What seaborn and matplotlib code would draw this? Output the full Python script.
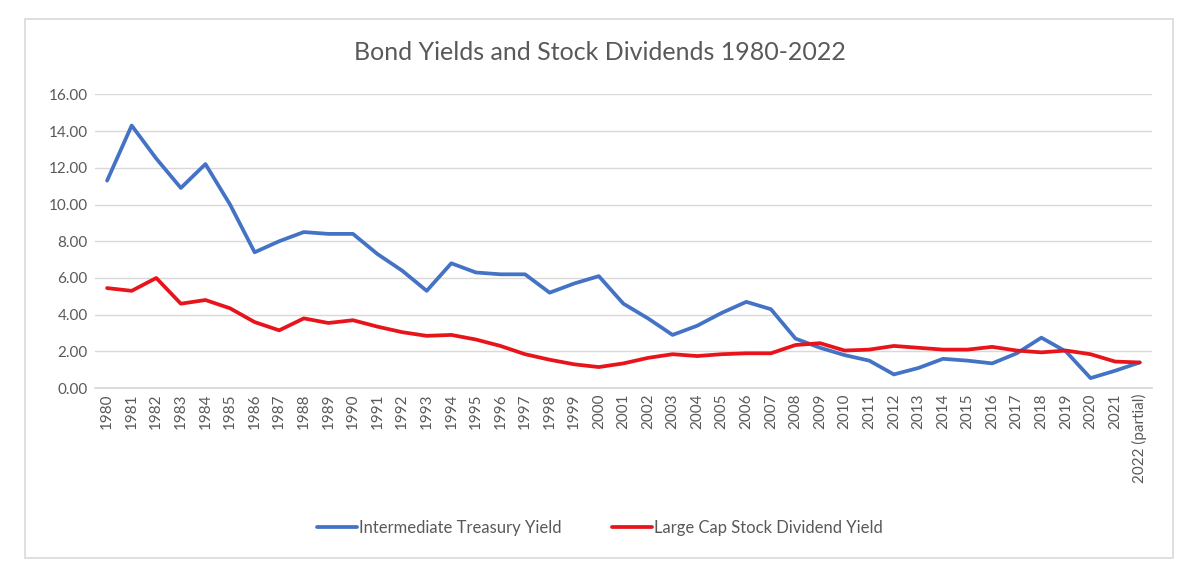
#!/usr/bin/env python3

import pandas as pd
import matplotlib.pyplot as plt
import seaborn as sns
from matplotlib.patches import Rectangle


YEARS = [str(y) for y in range(1980, 2022)] + ['2022 (partial)']

TREASURY = [11.3, 14.3, 12.5, 10.9, 12.2, 10.0, 7.4, 8.0, 8.5, 8.4,
            8.4, 7.3, 6.4, 5.3, 6.8, 6.3, 6.2, 6.2, 5.2, 5.7,
            6.1, 4.6, 3.8, 2.9, 3.4, 4.1, 4.7, 4.3, 2.7, 2.2,
            1.8, 1.5, 0.75, 1.1, 1.6, 1.5, 1.35, 1.9, 2.75, 2.0,
            0.55, 0.95, 1.4]

DIVIDEND = [5.45, 5.3, 6.0, 4.6, 4.8, 4.35, 3.6, 3.15, 3.8, 3.55,
            3.7, 3.35, 3.05, 2.85, 2.9, 2.65, 2.3, 1.85, 1.55, 1.3,
            1.15, 1.35, 1.65, 1.85, 1.75, 1.85, 1.9, 1.9, 2.35, 2.45,
            2.05, 2.1, 2.3, 2.2, 2.1, 2.1, 2.25, 2.05, 1.95, 2.05,
            1.85, 1.45, 1.4]

SERIES = ['Intermediate Treasury Yield', 'Large Cap Stock Dividend Yield']
COLORS = ['#4472C4', '#E8141C']


def build_frame():
    pos = list(range(len(YEARS)))
    df = pd.concat([
        pd.DataFrame({'pos': pos, 'year': YEARS, 'value': TREASURY, 'series': SERIES[0]}),
        pd.DataFrame({'pos': pos, 'year': YEARS, 'value': DIVIDEND, 'series': SERIES[1]}),
    ])
    return df


def main():
    sns.set_theme(style='white')
    plt.rcParams['font.family'] = ['Lato', 'DejaVu Sans']

    df = build_frame()

    fig = plt.figure(figsize=(12, 5.82), dpi=100)
    ax = fig.add_axes([0.079, 0.333, 0.881, 0.505])

    # light grey chart border like the Excel chart area
    fig.patches.append(Rectangle((25 / 1200, 1 - 558 / 582), 1148 / 1200, 539 / 582,
                                 transform=fig.transFigure, fill=False,
                                 edgecolor='#D9D9D9', linewidth=1.2))

    sns.lineplot(data=df, x='pos', y='value', hue='series', palette=COLORS,
                 linewidth=2.7, ax=ax, legend=True)

    ax.set_xlim(-0.5, len(YEARS) - 0.5)
    ax.set_ylim(0, 16)
    ax.set_yticks(range(0, 17, 2))
    ax.set_yticklabels([f'{v:.2f}' for v in range(0, 17, 2)])
    ax.set_xticks(range(len(YEARS)))
    ax.set_xticklabels(YEARS, rotation=90)
    ax.tick_params(axis='both', colors='#595959', labelsize=11, length=0)
    ax.tick_params(axis='y', pad=5)
    ax.tick_params(axis='x', pad=4)
    ax.grid(axis='y', color='#D9D9D9', linewidth=1)
    ax.grid(axis='x', visible=False)
    for side in ['top', 'right', 'left']:
        ax.spines[side].set_visible(False)
    ax.spines['bottom'].set_color('#D9D9D9')
    ax.set_xlabel('')
    ax.set_ylabel('')

    fig.text(0.5, 1 - 52 / 582, 'Bond Yields and Stock Dividends 1980-2022',
             ha='center', va='center', fontsize=18, color='#595959')

    handles, labels = ax.get_legend_handles_labels()
    ax.get_legend().remove()
    fig.legend(handles, labels, loc='center', bbox_to_anchor=(0.5, 1 - 528 / 582),
               ncol=2, frameon=False, fontsize=12, handlelength=2.4,
               handletextpad=0.15, columnspacing=3.0, labelcolor='#595959')

    fig.savefig('out.png', dpi=100)


if __name__ == '__main__':
    main()
